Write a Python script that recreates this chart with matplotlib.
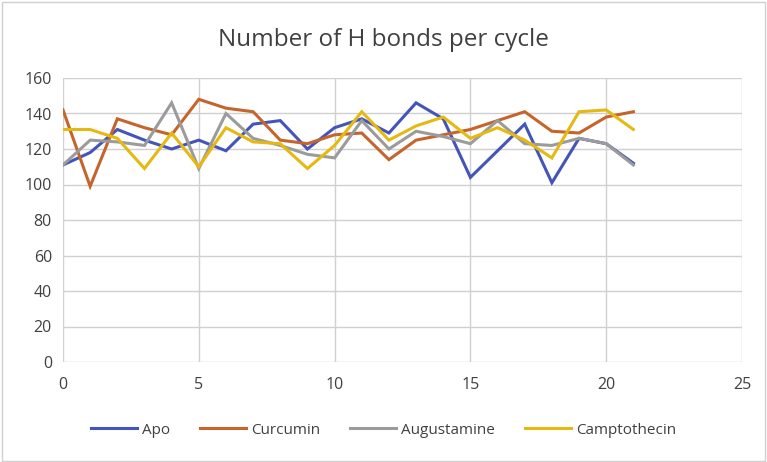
import numpy as np
import matplotlib.pyplot as plt

cycles = list(range(22))
apo = [111, 118, 131, 125, 120, 125, 119, 134, 136, 120, 132, 137, 129, 146, 137,
       104, 119, 134, 101, 126, 123, 112]
curcumin = [142, 99, 137, 132, 128, 148, 143, 141, 125, 123, 128, 129, 114, 125, 128,
            131, 136, 141, 130, 129, 138, 141]
augustamine = [111, 125, 124, 122, 146, 109, 140, 126, 122, 117, 115, 136, 120, 130, 127,
               123, 136, 123, 122, 126, 123, 111]
camptothecin = [131, 131, 126, 109, 129, 110, 132, 124, 123, 109, 122, 141, 125, 133, 138,
                126, 132, 125, 115, 141, 142, 131]

plt.rcParams['font.family'] = ['Open Sans', 'DejaVu Sans']

fig = plt.figure(figsize=(7.67, 4.62), dpi=100)
ax = fig.add_axes([63/767, 1 - 362/462, (742-63)/767, (362-78)/462])

series = [("Apo", apo, "#4355B8"),
          ("Curcumin", curcumin, "#C5652C"),
          ("Augustamine", augustamine, "#9B9B9B"),
          ("Camptothecin", camptothecin, "#E6B912")]
for name, vals, col in series:
    ax.plot(cycles, vals, color=col, lw=2.2, label=name, solid_joinstyle='miter')

ax.set_xlim(0, 25)
ax.set_ylim(0, 160)
ax.set_xticks(range(0, 26, 5))
ax.set_yticks(range(0, 161, 20))
ax.grid(True, color="#d0d0d0", lw=1)
ax.set_axisbelow(True)
for s in ax.spines.values():
    s.set_visible(False)
ax.tick_params(length=0, labelsize=11.5, colors="#404040", pad=8)
ax.tick_params(axis='x', pad=11)

fig.suptitle("Number of H bonds per cycle", y=0.94, fontsize=17.5, color="#404040")
fig.legend(loc="center", bbox_to_anchor=(0.5, 1 - 430/462), ncol=4,
           frameon=False, fontsize=11, handlelength=3.0, columnspacing=2.0,
           handletextpad=0.3, labelcolor="#404040")

fig.patches.append(plt.Rectangle((0.002, 0.003), 0.995, 0.993, transform=fig.transFigure,
                                 fill=False, ec="#d0d0d0", lw=1))
fig.savefig("out.png", dpi=100, facecolor="white")
